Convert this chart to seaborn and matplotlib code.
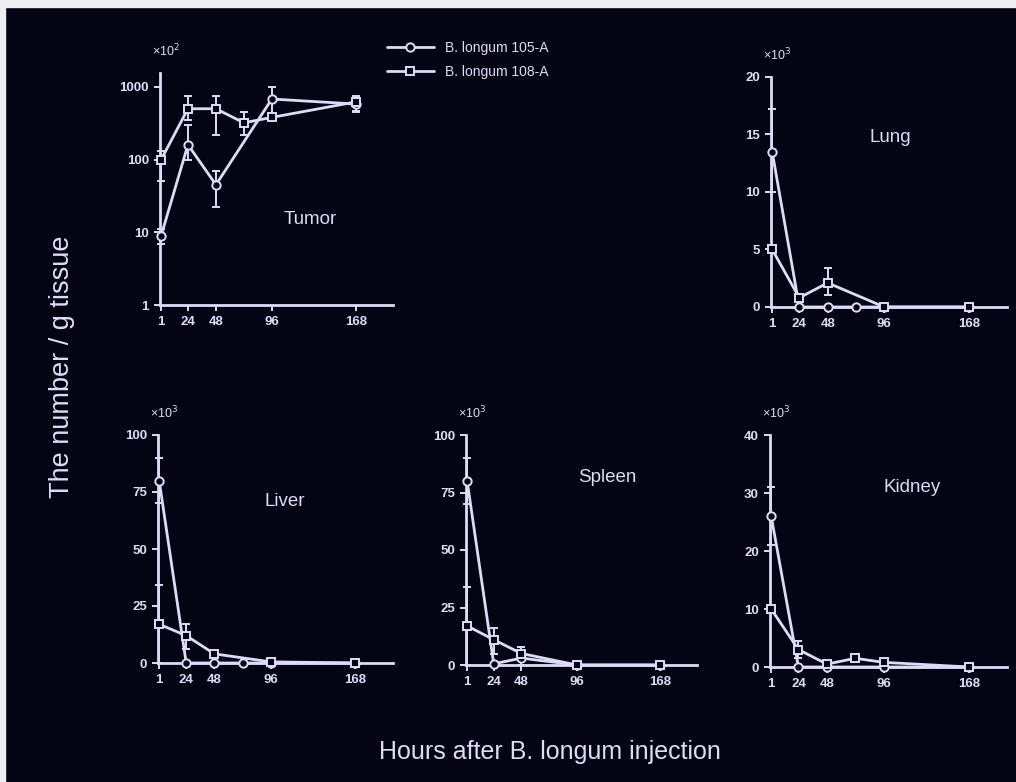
import numpy as np
import pandas as pd
import matplotlib
matplotlib.use('Agg')
import matplotlib.pyplot as plt
import seaborn as sns

# hours after injection, per panel and strain
tumor_h_105 = [1, 24, 48, 96, 168]
tumor_y_105 = [9, 160, 45, 680, 580]
tumor_lo_105 = [7, 100, 22, 400, 470]
tumor_hi_105 = [11, 300, 70, 1000, 700]
tumor_h_108 = [1, 24, 48, 72, 96, 168]
tumor_y_108 = [100, 500, 500, 320, 380, 620]
tumor_lo_108 = [50, 350, 220, 220, 350, 450]
tumor_hi_108 = [130, 750, 750, 450, 420, 750]

lung_h_105 = [1, 24, 48, 72, 96, 168]
lung_y_105 = [13.5, 0, 0, 0, 0, 0]
lung_lo_105 = [10, 0, 0, 0, 0, 0]
lung_hi_105 = [17.2, 0, 0, 0, 0, 0]
lung_h_108 = [1, 24, 48, 96, 168]
lung_y_108 = [5, 0.8, 2.1, 0, 0]
lung_lo_108 = [5, 0.8, 1.0, 0, 0]
lung_hi_108 = [5, 0.8, 3.4, 0, 0]

liver_h_105 = [1, 24, 48, 72, 96, 168]
liver_y_105 = [80, 0, 0, 0, 0, 0]
liver_lo_105 = [70, 0, 0, 0, 0, 0]
liver_hi_105 = [90, 0, 0, 0, 0, 0]
liver_h_108 = [1, 24, 48, 96, 168]
liver_y_108 = [17, 12, 4, 0.5, 0]
liver_lo_108 = [0, 6, 3, 0.5, 0]
liver_hi_108 = [34, 17, 5, 0.5, 0]

spleen_h_105 = [1, 24, 48, 96, 168]
spleen_y_105 = [80, 0.5, 3, 0, 0]
spleen_lo_105 = [70, 0.5, 0, 0, 0]
spleen_hi_105 = [90, 0.5, 4, 0, 0]
spleen_h_108 = [1, 24, 48, 96, 168]
spleen_y_108 = [17, 11, 5, 0, 0]
spleen_lo_108 = [0, 5, 2, 0, 0]
spleen_hi_108 = [34, 16, 8, 0, 0]

kidney_h_105 = [1, 24, 48, 96, 168]
kidney_y_105 = [26, 0, 0, 0, 0]
kidney_lo_105 = [21, 0, 0, 0, 0]
kidney_hi_105 = [31, 0, 0, 0, 0]
kidney_h_108 = [1, 24, 48, 72, 96, 168]
kidney_y_108 = [10, 3, 0.5, 1.5, 0.8, 0]
kidney_lo_108 = [10, 1.5, 0.5, 1.5, 0.8, 0]
kidney_hi_108 = [10, 4.5, 0.5, 1.5, 0.8, 0]

strains = ['B. longum 105-A', 'B. longum 108-A']
hour_ticks = [1, 24, 48, 96, 168]

BG = '#050414'
FG = '#dcdcf6'

sns.set_theme(style='dark', rc={
    'axes.facecolor': BG, 'figure.facecolor': BG,
    'axes.edgecolor': FG, 'text.color': FG,
    'xtick.color': FG, 'ytick.color': FG,
})
plt.rcParams['font.family'] = ['Liberation Sans', 'DejaVu Sans']

W, H = 1016, 782
fig = plt.figure(figsize=(W / 100, H / 100), dpi=100)


def px_axes(left, right, top, bottom):
    return fig.add_axes([left / W, 1 - bottom / H, (right - left) / W, (bottom - top) / H])


def draw_series(ax, hours, vals, lo, hi, marker, label):
    df = pd.DataFrame({'hours': hours, 'value': vals})
    yerr = [np.array(vals) - np.array(lo), np.array(hi) - np.array(vals)]
    ax.errorbar(hours, vals, yerr=yerr, fmt='none', ecolor=FG, elinewidth=1.4,
                capsize=3, capthick=1.4, clip_on=False, zorder=2)
    sns.lineplot(data=df, x='hours', y='value', ax=ax, color=FG, lw=2,
                 marker=marker, markersize=6, markerfacecolor=BG,
                 markeredgecolor=FG, markeredgewidth=1.4, label=label,
                 legend=False, clip_on=False, zorder=3)


def style_axes(ax, yticks, yticklabels, ylim, mult):
    ax.set_xlim(0, 200)
    ax.set_ylim(*ylim)
    ax.set_xticks(hour_ticks)
    ax.set_xticklabels([str(h) for h in hour_ticks])
    ax.set_yticks(yticks)
    ax.set_yticklabels(yticklabels)
    ax.minorticks_off()
    ax.tick_params(axis='both', which='major', direction='out', length=4, width=1.4,
                   labelsize=9.5, pad=4, bottom=True, left=True)
    for t in ax.get_xticklabels() + ax.get_yticklabels():
        t.set_fontweight('bold')
    for s in ['top', 'right']:
        ax.spines[s].set_visible(False)
    for s in ['left', 'bottom']:
        ax.spines[s].set_linewidth(2)
        ax.spines[s].set_color(FG)
    ax.set_xlabel('')
    ax.set_ylabel('')
    ax.grid(False)
    ax.annotate(mult, xy=(0, 1), xycoords='axes fraction', xytext=(6, 22),
                textcoords='offset pixels', ha='center', va='center', fontsize=9)


# Tumor
ax = px_axes(160, 393, 73, 305)
ax.set_yscale('log')
draw_series(ax, tumor_h_105, tumor_y_105, tumor_lo_105, tumor_hi_105, 'o', strains[0])
draw_series(ax, tumor_h_108, tumor_y_108, tumor_lo_108, tumor_hi_108, 's', strains[1])
style_axes(ax, [1, 10, 100, 1000], ['1', '10', '100', '1000'], (1, 1550), '×10$^2$')
handles, labels = ax.get_legend_handles_labels()

# Lung
ax = px_axes(771, 1007, 77, 307)
draw_series(ax, lung_h_105, lung_y_105, lung_lo_105, lung_hi_105, 'o', strains[0])
draw_series(ax, lung_h_108, lung_y_108, lung_lo_108, lung_hi_108, 's', strains[1])
style_axes(ax, [0, 5, 10, 15, 20], ['0', '5', '10', '15', '20'], (0, 20), '×10$^3$')

# Liver
ax = px_axes(158, 393, 435, 663)
draw_series(ax, liver_h_105, liver_y_105, liver_lo_105, liver_hi_105, 'o', strains[0])
draw_series(ax, liver_h_108, liver_y_108, liver_lo_108, liver_hi_108, 's', strains[1])
style_axes(ax, [0, 25, 50, 75, 100], ['0', '25', '50', '75', '100'], (0, 100), '×10$^3$')

# Spleen
ax = px_axes(466, 697, 435, 665)
draw_series(ax, spleen_h_105, spleen_y_105, spleen_lo_105, spleen_hi_105, 'o', strains[0])
draw_series(ax, spleen_h_108, spleen_y_108, spleen_lo_108, spleen_hi_108, 's', strains[1])
style_axes(ax, [0, 25, 50, 75, 100], ['0', '25', '50', '75', '100'], (0, 100), '×10$^3$')

# Kidney
ax = px_axes(770, 1007, 435, 667)
draw_series(ax, kidney_h_105, kidney_y_105, kidney_lo_105, kidney_hi_105, 'o', strains[0])
draw_series(ax, kidney_h_108, kidney_y_108, kidney_lo_108, kidney_hi_108, 's', strains[1])
style_axes(ax, [0, 10, 20, 30, 40], ['0', '10', '20', '30', '40'], (0, 40), '×10$^3$')

# panel names
for name, x, y in [('Tumor', 310, 220), ('Lung', 890, 137), ('Liver', 285, 502),
                   ('Spleen', 607, 478), ('Kidney', 912, 488)]:
    fig.text(x / W, 1 - y / H, name, ha='center', va='center', fontsize=13.5)

fig.text(62 / W, 1 - 367 / H, 'The number / g tissue', rotation=90,
         ha='center', va='center', fontsize=19.5)
fig.text(550 / W, 1 - 752 / H, 'Hours after B. longum injection',
         ha='center', va='center', fontsize=18)

fig.legend(handles, labels, loc='upper left', bbox_to_anchor=(374 / W, 1 - 28 / H),
           frameon=False, fontsize=10, handlelength=3.4, labelspacing=0.75,
           handletextpad=0.8, labelcolor=FG)

# slide border strips
fig.patches.append(plt.Rectangle((0, 1 - 7 / H), 1, 7 / H, transform=fig.transFigure,
                                 color='#eeedf0', zorder=0))
fig.patches.append(plt.Rectangle((0, 0), 5 / W, 1, transform=fig.transFigure,
                                 color='#eeedf0', zorder=0))

fig.savefig('out.png', dpi=100, facecolor=BG)
